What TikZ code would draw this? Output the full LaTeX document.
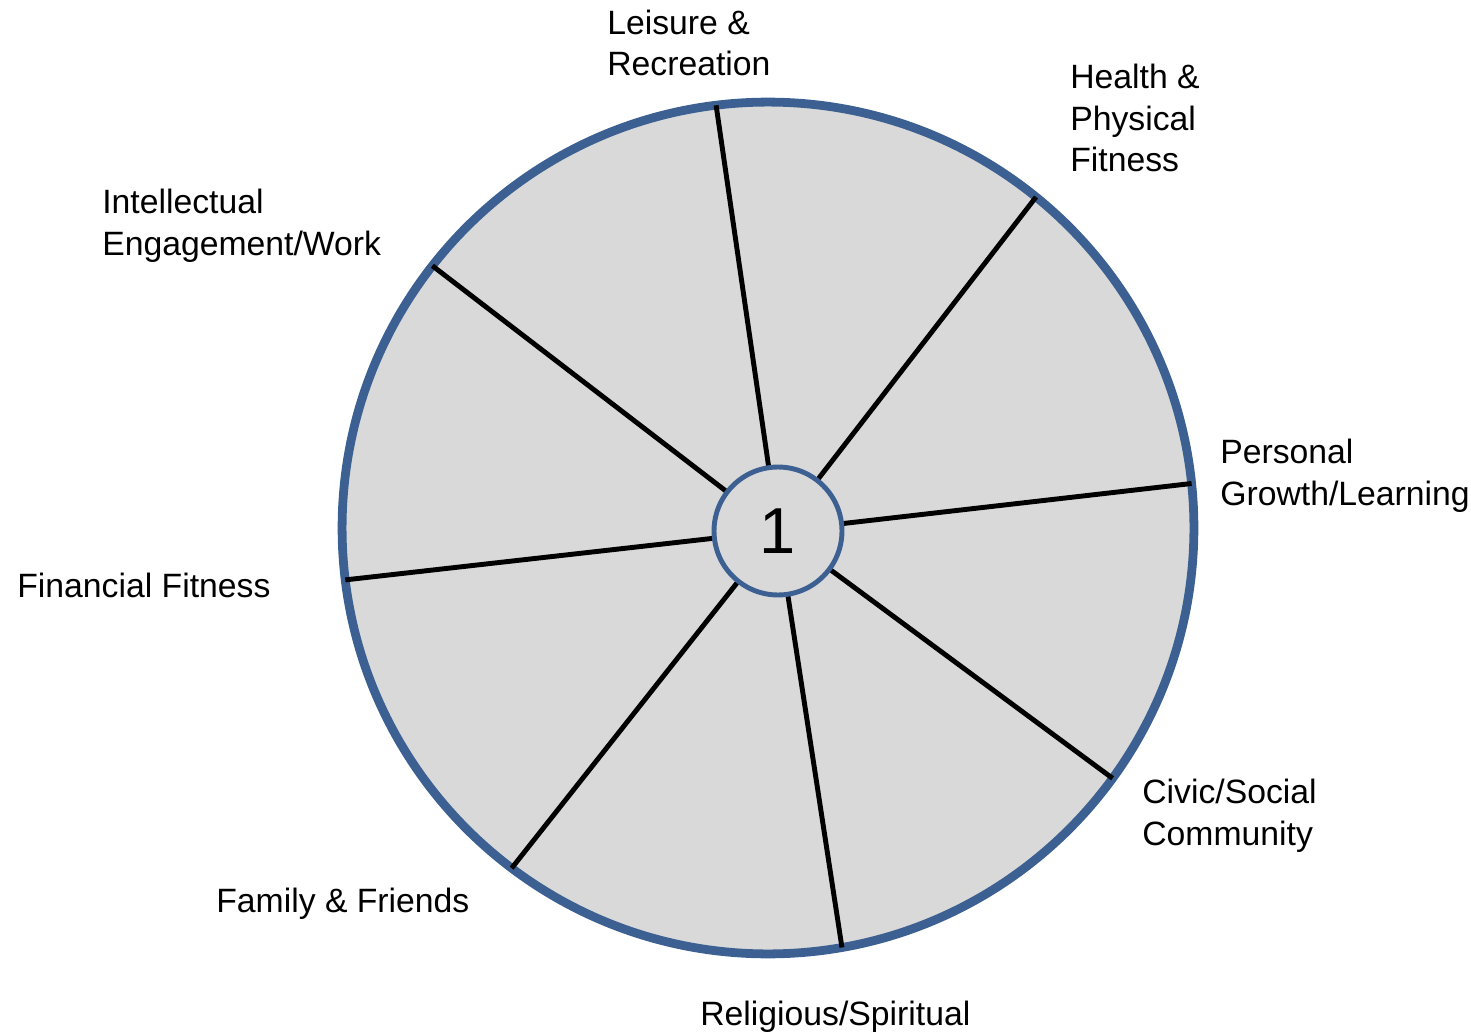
\documentclass[tikz,border=0pt]{standalone}
\usepackage{fontspec}
\setmainfont{Liberation Sans}

\definecolor{ringblue}{RGB}{60,96,145}
\definecolor{wheelgray}{RGB}{217,217,217}

\tikzset{
  area/.style={anchor=base west,inner sep=0pt,align=left,
    font=\fontsize{19.2}{23.8}\selectfont},
  spoke/.style={line width=2.8pt,black}
}

\begin{document}
\begin{tikzpicture}[x=0.02cm,y=0.02cm]

    \useasboundingbox (0,0) rectangle (1471,-1034);

    % the wheel and its hub
    \node[circle,draw=ringblue,fill=wheelgray,line width=5pt,inner sep=0pt,
      outer sep=0pt,minimum size=17.04cm] (wheel) at (768,-528) {};
    \node[circle,inner sep=0pt,minimum size=2.56cm] (hub) at (778,-531) {};

    \foreach \a in {97.3,51.5,6.1,-36.4,-80.3,-127.3,-173.3,142.9}
      \draw[spoke] (hub) -- (wheel.\a);

    \node[circle,draw=ringblue,fill=wheelgray,line width=2.8pt,inner sep=0pt,
      minimum size=2.56cm,font=\fontsize{37}{40}\selectfont] at (hub) {1};

    % life areas round the rim (base = last line)
    \node[area] (leisure) at (607,-76) {Leisure \&\\Recreation};
    \node[area] (health) at (1070,-172) {Health \&\\Physical\\Fitness};
    \node[area] (personal) at (1220,-505) {Personal\\Growth/Learning};
    \node[area] (civic) at (1142,-845) {Civic/Social\\Community};
    \node[area] (religious) at (700,-1025) {Religious/Spiritual};
    \node[area] (family) at (216,-912) {Family \& Friends};
    \node[area] (financial) at (17,-597) {Financial Fitness};
    \node[area] (intellectual) at (102,-255) {Intellectual\\Engagement/Work};

\end{tikzpicture}
\end{document}
